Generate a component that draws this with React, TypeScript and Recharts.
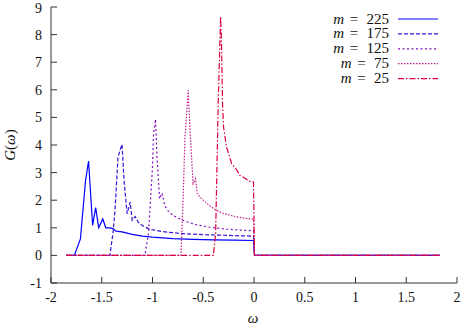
import { LineChart, Line, XAxis, YAxis, Label } from 'recharts';

// omega samples and G(omega) values per series
const w225 = [-1.85, -1.77, -1.71, -1.66, -1.63, -1.59, -1.56, -1.53, -1.49, -1.46, -1.42, -1.39, -1.36, -1.3, -1.2, -1.1, -1.0, -0.8, -0.6, -0.4, -0.2, -0.005, 0.005, 1.83];
const g225 = [0, 0, 0.6, 2.7, 3.42, 1.09, 1.73, 1.0, 1.32, 1.0, 1.0, 0.97, 0.88, 0.85, 0.76, 0.7, 0.66, 0.61, 0.58, 0.56, 0.55, 0.54, 0, 0];

const w175 = [-1.85, -1.42, -1.39, -1.37, -1.34, -1.31, -1.3, -1.28, -1.25, -1.22, -1.2, -1.17, -1.14, -1.1, -1.03, -0.9, -0.7, -0.5, -0.3, -0.15, -0.005, 0.005, 1.83];
const g175 = [0, 0, 0.79, 1.6, 3.56, 3.92, 4.02, 2.7, 1.51, 1.93, 1.27, 1.41, 1.2, 1.08, 0.95, 0.86, 0.79, 0.75, 0.73, 0.71, 0.7, 0, 0];

const w125 = [-1.85, -1.075, -1.04, -1.0, -0.99, -0.97, -0.955, -0.93, -0.905, -0.88, -0.85, -0.8, -0.7, -0.58, -0.45, -0.3, -0.15, -0.005, 0.005, 1.83];
const g125 = [0, 0, 0.79, 3.2, 4.4, 4.93, 3.5, 2.05, 2.26, 1.81, 1.63, 1.45, 1.27, 1.12, 1.03, 0.96, 0.92, 0.89, 0, 0];

const w75 = [-1.85, -0.72, -0.7, -0.68, -0.648, -0.63, -0.6, -0.576, -0.56, -0.53, -0.5, -0.43, -0.37, -0.3, -0.2, -0.1, -0.005, 0.005, 1.83];
const g75 = [0, 0, 1.87, 4.29, 5.98, 4.5, 2.6, 2.78, 2.26, 2.1, 2.0, 1.78, 1.63, 1.52, 1.42, 1.35, 1.31, 0, 0];

const w25 = [-1.85, -0.4, -0.378, -0.352, -0.329, -0.322, -0.31, -0.3, -0.27, -0.22, -0.17, -0.14, -0.1, -0.04, -0.005, 0.005, 1.83];
const g25 = [0, 0, 0.8, 5.6, 8.66, 8.0, 5.5, 4.65, 3.92, 3.32, 3.1, 2.9, 2.82, 2.68, 2.66, 0, 0];

const xTicks = [-2, -1.5, -1, -0.5, 0, 0.5, 1, 1.5, 2];
const yTicks = [-1, 0, 1, 2, 3, 4, 5, 6, 7, 8, 9];

const series = [
  { label: '225', w: w225, g: g225, color: '#0000ff', dash: undefined },
  { label: '175', w: w175, g: g175, color: '#3a14d8', dash: '4 2' },
  { label: '125', w: w125, g: g125, color: '#8010c0', dash: '2 2.5' },
  { label: '75', w: w75, g: g75, color: '#c0208a', dash: '1.5 1.5' },
  { label: '25', w: w25, g: g25, color: '#dc003c', dash: '6 2 1.5 2' },
];

const font = '"Liberation Serif", serif';
const tickStyle = { fontSize: 14, fill: '#111', style: { fontFamily: font } };
const frame = '#333';

export default function App() {
  return (
    <div style={{ position: 'absolute', left: 0, top: 0, width: 463, height: 325, background: '#fff', fontFamily: font }}>
      <LineChart width={463} height={325} margin={{ top: 7, right: 6, bottom: 0, left: 0 }} style={{ fontFamily: font }}>
        <XAxis
          xAxisId={0}
          type="number"
          dataKey="x"
          domain={[-2, 2]}
          ticks={xTicks}
          allowDataOverflow
          height={42}
          tickSize={-6}
          tickMargin={15}
          stroke={frame}
          tick={tickStyle}
          tickFormatter={(v) => String(v)}
        >
          <Label
            content={() => (
              <text x={253} y={323} textAnchor="middle" style={{ fontFamily: font }} fontSize={15} fontStyle="italic" fill="#111">
                ω
              </text>
            )}
          />
        </XAxis>
        <XAxis
          xAxisId="top"
          orientation="top"
          type="number"
          domain={[-2, 2]}
          ticks={xTicks}
          allowDataOverflow
          height={0}
          tickSize={-6}
          stroke={frame}
          tickFormatter={() => ''}
        />
        <YAxis
          yAxisId={0}
          type="number"
          domain={[-1, 9]}
          ticks={yTicks}
          allowDataOverflow
          width={51}
          tickSize={-6}
          tickMargin={15}
          stroke={frame}
          tick={tickStyle}
        >
          <Label
            content={() => (
              <text transform="translate(15,145) rotate(-90)" textAnchor="middle" style={{ fontFamily: font }} fontSize={15} fill="#111">
                <tspan fontStyle="italic">G</tspan>(<tspan fontStyle="italic">ω</tspan>)
              </text>
            )}
          />
        </YAxis>
        <YAxis
          yAxisId="right"
          orientation="right"
          type="number"
          domain={[-1, 9]}
          ticks={yTicks}
          allowDataOverflow
          width={0}
          tickSize={-6}
          stroke={frame}
          tickFormatter={() => ''}
        />
        {series.map((s) => (
          <Line
            key={s.label}
            xAxisId={0}
            yAxisId={0}
            data={s.w.map((x, i) => ({ x, y: s.g[i] }))}
            dataKey="y"
            type="linear"
            stroke={s.color}
            strokeWidth={1.2}
            strokeDasharray={s.dash}
            dot={false}
            isAnimationActive={false}
          />
        ))}
      </LineChart>
      <svg width={463} height={325} style={{ position: 'absolute', left: 0, top: 0, pointerEvents: 'none', fontFamily: font }}>
        {series.map((s, i) => {
          const y = 19 + i * 14.9;
          // whole label is right-aligned, so shorter numbers push "m =" to the right
          const shift = (3 - s.label.length) * 7.5;
          return (
            <g key={s.label}>
              <text y={y + 4.5} fontSize={15} fill="#111">
                <tspan x={344 + shift} textAnchor="end" fontStyle="italic">m</tspan>
                <tspan x={354 + shift} textAnchor="middle">=</tspan>
                <tspan x={389} textAnchor="end">{s.label}</tspan>
              </text>
              <line x1={398} x2={438} y1={y} y2={y} stroke={s.color} strokeWidth={1.2} strokeDasharray={s.dash} />
            </g>
          );
        })}
      </svg>
    </div>
  );
}
